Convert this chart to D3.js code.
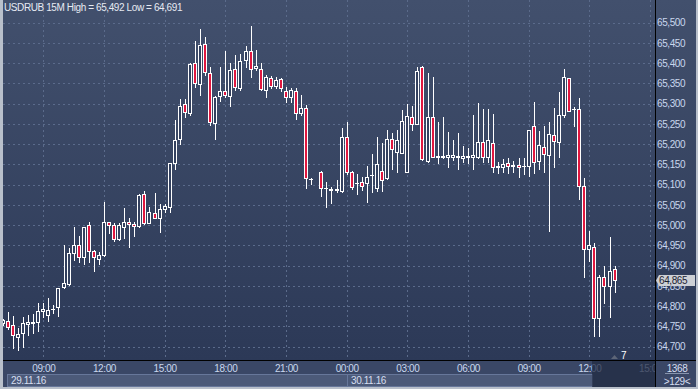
<!DOCTYPE html>
<html>
<head>
<meta charset="utf-8">
<script src="https://cdn.jsdelivr.net/npm/d3@7"></script>
<style>
body { margin: 0; background: #b9c0cb; }
svg { display: block; font-family: "Liberation Sans", Arial, sans-serif; }
</style>
</head>
<body>
<div id="chart"></div>
<script>
const WIDTH = 698;
const HEIGHT = 389;
const PLOT_LEFT = 3;
const PLOT_RIGHT = 655;
const PLOT_BOTTOM = 360;

// chart data (15 minute bars, first bar 29.11.16 07:00, one bar missing at 22:30)
const title = "USDRUB 15M High = 65,492 Low = 64,691";
const startTime = new Date(2016, 10, 29, 7, 0);
const endTime = new Date(2016, 10, 30, 15, 0);

const opens = [64758, 64763, 64753, 64725, 64733, 64756, 64759, 64760, 64789, 64779,
    64792, 64797, 64848, 64854, 64931, 64950, 64921, 65000, 64937, 64917,
    64926, 65007, 65000, 64967, 64996, 65007, 65003, 64998, 65077, 65006,
    65029, 65019, 65041, 65046, 65153, 65212, 65299, 65278, 65401, 65348,
    65447, 65375, 65252, 65319, 65331, 65319, 65385, 65339, 65408, 65431,
    65387, 65385, 65334, 65363, 65344, 65360, 65332, 65316, 65331, 65276,
    65289, 65114, null, 65131, 65092, 65090, 65089, 65085, 65217, 65131,
    65104, 65106, 65105, 65123, 65091, 65134, 65116, 65212, 65181, 65179,
    65132, 65268, 65250, 65390, 65159, 65268, 65170, 65168, 65169, 65169,
    65170, 65165, 65169, 65168, 65169, 65205, 65169, 65202, 65145, 65143,
    65153, 65148, 65149, 65146, 65147, 65245, 65159, 65192, 65173, 65223,
    65206, 65272, 65363, 65287, 65286, 65098, 64940, 64947, 64770, 64873,
    64851, 64891];
const highs = [64768, 64785, 64776, 64746, 64773, 64778, 64781, 64809, 64809, 64820,
    64803, 64845, 64951, 64943, 64995, 64973, 64996, 65009, 64938, 64934,
    65058, 65008, 65005, 65005, 65042, 65019, 65009, 65077, 65084, 65044,
    65079, 65052, 65052, 65154, 65260, 65311, 65311, 65401, 65455, 65484,
    65464, 65391, 65318, 65391, 65430, 65400, 65420, 65423, 65442, 65492,
    65433, 65400, 65371, 65368, 65365, 65363, 65342, 65338, 65338, 65321,
    65296, 65117, null, 65135, 65107, 65095, 65112, 65239, 65256, 65135,
    65126, 65120, 65146, 65177, 65217, 65204, 65235, 65228, 65235, 65284,
    65299, 65294, 65391, 65392, 65375, 65367, 65256, 65268, 65231, 65210,
    65227, 65196, 65190, 65272, 65302, 65286, 65286, 65275, 65157, 65163,
    65165, 65159, 65165, 65165, 65236, 65305, 65233, 65245, 65256, 65290,
    65330, 65385, 65364, 65293, 65313, 65116, 64986, 64955, 64877, 64899,
    64970, 64899];
const lows = [64754, 64744, 64698, 64691, 64700, 64729, 64734, 64739, 64774, 64764,
    64784, 64776, 64846, 64852, 64914, 64909, 64904, 64910, 64888, 64904,
    64924, 64980, 64961, 64963, 64969, 64947, 64974, 64996, 65002, 65005,
    65018, 64984, 65032, 65033, 65140, 65200, 65268, 65272, 65342, 65321,
    65371, 65247, 65212, 65307, 65316, 65294, 65334, 65334, 65391, 65365,
    65383, 65335, 65316, 65338, 65338, 65331, 65305, 65305, 65261, 65272,
    65091, 65102, null, 65072, 65046, 65055, 65083, 65083, 65126, 65089,
    65077, 65087, 65058, 65083, 65085, 65085, 65113, 65138, 65132, 65178,
    65131, 65235, 65249, 65161, 65157, 65168, 65153, 65165, 65143, 65161,
    65138, 65157, 65153, 65140, 65165, 65157, 65157, 65132, 65130, 65132,
    65130, 65132, 65120, 65126, 65122, 65130, 65140, 65132, 64986, 65143,
    65169, 65266, 65283, 65246, 65064, 64873, 64912, 64727, 64727, 64809,
    64774, 64836];
const closes = [64766, 64749, 64728, 64731, 64758, 64760, 64761, 64788, 64792, 64791,
    64793, 64844, 64857, 64931, 64950, 64921, 64995, 64937, 64921, 64926,
    65007, 65000, 64967, 65000, 65007, 65002, 64998, 65075, 65006, 65032,
    65019, 65039, 65047, 65153, 65210, 65294, 65280, 65398, 65350, 65445,
    65379, 65256, 65316, 65331, 65321, 65383, 65342, 65406, 65430, 65385,
    65394, 65336, 65365, 65344, 65358, 65338, 65316, 65334, 65276, 65289,
    65116, 65115, null, 65091, 65091, 65088, 65088, 65217, 65132, 65095,
    65103, 65097, 65118, 65124, 65151, 65112, 65212, 65187, 65210, 65257,
    65270, 65250, 65381, 65163, 65266, 65169, 65168, 65170, 65173, 65173,
    65168, 65171, 65170, 65173, 65206, 65168, 65210, 65143, 65144, 65150,
    65147, 65147, 65143, 65147, 65235, 65155, 65198, 65177, 65225, 65209,
    65272, 65365, 65283, 65286, 65098, 64940, 64951, 64770, 64873, 64851,
    64888, 64865];

const priceTicks = [65500, 65450, 65400, 65350, 65300, 65250, 65200, 65150, 65100,
    65050, 65000, 64950, 64900, 64850, 64800, 64750, 64700];
const dayLabels = ["29.11.16", "30.11.16"];
const dayStarts = [new Date(2016, 10, 29, 0, 0), new Date(2016, 10, 30, 0, 0)];
const barsTotal = "1368";
const shiftLabel = ">129<";
const separatorCount = "7";

const bars = opens.map((o, i) => ({
    time: d3.timeMinute.offset(startTime, 15 * i),
    open: o, high: highs[i], low: lows[i], close: closes[i]
})).filter(d => d.open !== null);
const lastBar = bars[bars.length - 1];

const svg = d3.select("#chart")
    .append("svg")
    .attr("width", WIDTH)
    .attr("height", HEIGHT);

// background gradient
const defs = svg.append("defs");
const grad = defs.append("linearGradient")
    .attr("id", "bg")
    .attr("x1", 0).attr("y1", 0).attr("x2", 0).attr("y2", 1);
grad.append("stop").attr("offset", "0%").attr("stop-color", "#42506d");
grad.append("stop").attr("offset", "100%").attr("stop-color", "#2c3957");

defs.append("clipPath")
    .attr("id", "plot-clip")
    .append("rect")
    .attr("x", PLOT_LEFT).attr("y", 0)
    .attr("width", PLOT_RIGHT - PLOT_LEFT).attr("height", PLOT_BOTTOM);

// time labels stop at the price axis line
defs.append("clipPath")
    .attr("id", "time-clip")
    .append("rect")
    .attr("x", PLOT_LEFT).attr("y", PLOT_BOTTOM)
    .attr("width", PLOT_RIGHT - PLOT_LEFT).attr("height", 30);

svg.append("rect")
    .attr("x", PLOT_LEFT).attr("y", 0)
    .attr("width", 696 - PLOT_LEFT).attr("height", PLOT_BOTTOM)
    .attr("fill", "url(#bg)");

// time axis area
svg.append("rect")
    .attr("x", PLOT_LEFT).attr("y", PLOT_BOTTOM)
    .attr("width", 696 - PLOT_LEFT).attr("height", 387 - PLOT_BOTTOM)
    .attr("fill", "#3a4766");

// scales
const x = d3.scaleTime()
    .domain([startTime, endTime])
    .range([2.85, 650]);

const y = d3.scaleLinear()
    .domain([64700, 65500])
    .range([346.7, 22.7]);

const timeTicks = x.ticks(d3.timeHour.every(3));

// grid
const grid = svg.append("g").attr("clip-path", "url(#plot-clip)");

grid.selectAll(".hgrid")
    .data(priceTicks)
    .enter()
    .append("line")
    .attr("x1", PLOT_LEFT).attr("x2", PLOT_RIGHT)
    .attr("y1", d => Math.round(y(d)) + 0.5)
    .attr("y2", d => Math.round(y(d)) + 0.5)
    .attr("stroke", "#5b6b8b")
    .attr("stroke-dasharray", "2,3");

grid.selectAll(".vgrid")
    .data(timeTicks)
    .enter()
    .append("line")
    .attr("x1", d => Math.round(x(d)) + 0.5)
    .attr("x2", d => Math.round(x(d)) + 0.5)
    .attr("y1", 0).attr("y2", PLOT_BOTTOM)
    .attr("stroke", "#5b6b8b")
    .attr("stroke-dasharray", "2,3");

// candles
const candles = svg.append("g")
    .attr("clip-path", "url(#plot-clip)")
    .selectAll(".candle")
    .data(bars)
    .enter()
    .append("g")
    .attr("class", "candle");

const cx = d => Math.round(x(d.time));

candles.append("line")
    .attr("x1", d => cx(d) + 0.5)
    .attr("x2", d => cx(d) + 0.5)
    .attr("y1", d => Math.round(y(d.high)))
    .attr("y2", d => Math.round(y(d.low)) + 1)
    .attr("stroke", "#ffffff");

candles.each(function (d) {
    const g = d3.select(this);
    const top = Math.round(y(Math.max(d.open, d.close)));
    const bottom = Math.round(y(Math.min(d.open, d.close)));
    if (bottom - top < 1) {
        g.append("line")
            .attr("x1", cx(d) - 2).attr("x2", cx(d) + 2)
            .attr("y1", top + 0.5).attr("y2", top + 0.5)
            .attr("stroke", "#ffffff");
        return;
    }
    g.append("rect")
        .attr("x", cx(d) - 1.5)
        .attr("y", top + 0.5)
        .attr("width", 3)
        .attr("height", bottom - top)
        .attr("fill", d.close < d.open ? "#e0173f" : "#34415f")
        .attr("stroke", "#ffffff");
});

// frame lines
svg.append("line")
    .attr("x1", PLOT_LEFT).attr("x2", 696)
    .attr("y1", PLOT_BOTTOM + 0.5).attr("y2", PLOT_BOTTOM + 0.5)
    .attr("stroke", "#000");
svg.append("line")
    .attr("x1", PLOT_RIGHT + 0.5).attr("x2", PLOT_RIGHT + 0.5)
    .attr("y1", 0).attr("y2", 387)
    .attr("stroke", "#000");

// price axis
const yAxis = svg.append("g")
    .attr("transform", `translate(${PLOT_RIGHT},0)`)
    .call(d3.axisRight(y).tickValues(priceTicks).tickFormat(d3.format(",")).tickSize(0).tickPadding(2));
yAxis.select(".domain").remove();
yAxis.selectAll("text")
    .attr("fill", "#c9d7ee")
    .style("font-size", "10px")
    .style("letter-spacing", "-0.4px");

// time axis
const xAxis = svg.append("g")
    .attr("clip-path", "url(#time-clip)")
    .append("g")
    .attr("transform", `translate(0,${PLOT_BOTTOM})`)
    .call(d3.axisBottom(x).tickValues(timeTicks).tickFormat(d3.timeFormat("%H:%M")).tickSize(0).tickPadding(4.5));
xAxis.select(".domain").remove();
xAxis.selectAll("text")
    .attr("fill", "#c9d7ee")
    .style("font-size", "10px")
    .style("letter-spacing", "-0.4px");

// date bar
const dayEdges = [7, x(dayStarts[1]), 592];
svg.selectAll(".daybar")
    .data(dayLabels)
    .enter()
    .append("rect")
    .attr("x", (d, i) => Math.round(dayEdges[i]) + 0.5)
    .attr("y", 374.5)
    .attr("width", (d, i) => Math.round(dayEdges[i + 1]) - Math.round(dayEdges[i]))
    .attr("height", 12)
    .attr("fill", "#4c5a79")
    .attr("stroke", "#67779a");

svg.selectAll(".daylabel")
    .data(dayLabels)
    .enter()
    .append("text")
    .attr("x", (d, i) => Math.round(dayEdges[i]) + 4)
    .attr("y", 383.5)
    .attr("fill", "#d6def0")
    .style("font-size", "10px")
    .style("letter-spacing", "-0.4px")
    .text(d => d);

// shifted (future) area of the time scale
svg.append("rect")
    .attr("x", 592).attr("y", PLOT_BOTTOM + 1)
    .attr("width", PLOT_RIGHT - 592).attr("height", 387 - PLOT_BOTTOM - 1)
    .attr("fill", "#222b43")
    .attr("opacity", 0.75);

// period separator marker
svg.append("path")
    .attr("d", "M611,359 L614.5,355 L618,359 Z")
    .attr("fill", "#5d6577");
svg.append("text")
    .attr("x", 621).attr("y", 358.5)
    .attr("fill", "#ffffff")
    .style("font-size", "10px")
    .text(separatorCount);

// corner box
svg.append("text")
    .attr("x", 677).attr("y", 371.5)
    .attr("text-anchor", "middle")
    .attr("fill", "#d6def0")
    .style("font-size", "10px")
    .style("letter-spacing", "-0.4px")
    .text(barsTotal);
svg.append("line")
    .attr("x1", 665).attr("x2", 689)
    .attr("y1", 373.5).attr("y2", 373.5)
    .attr("stroke", "#8794ad");
svg.append("text")
    .attr("x", 677).attr("y", 385)
    .attr("text-anchor", "middle")
    .attr("fill", "#d6def0")
    .style("font-size", "10px")
    .style("letter-spacing", "-0.4px")
    .text(shiftLabel);

// current price label
const py = Math.round(y(lastBar.close)) + 0.5;
svg.append("path")
    .attr("d", `M656,${py} L659,${py - 5.5} L695,${py - 5.5} L695,${py + 5.5} L659,${py + 5.5} Z`)
    .attr("fill", "#cdd0d5");
svg.append("text")
    .attr("x", 659).attr("y", py + 3.5)
    .attr("fill", "#1c2233")
    .style("font-size", "10px")
    .style("letter-spacing", "-0.4px")
    .text(d3.format(",")(lastBar.close));

// title
svg.append("text")
    .attr("x", 4).attr("y", 11.3)
    .attr("fill", "#e6eaf2")
    .style("font-size", "10px")
    .style("letter-spacing", "-0.4px")
    .text(title);
</script>
</body>
</html>
